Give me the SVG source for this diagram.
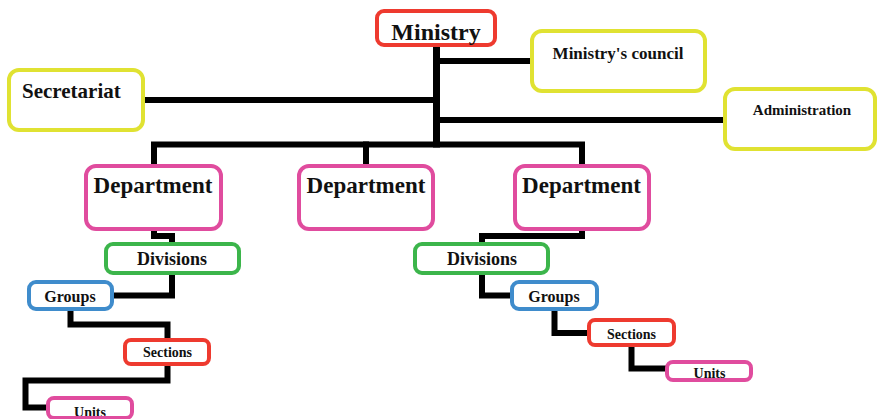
<svg xmlns="http://www.w3.org/2000/svg" width="878" height="419" viewBox="0 0 878 419">
<style>
  .box { fill: #ffffff; stroke-width: 4; }
  .red { stroke: #ee3a2f; }
  .yel { stroke: #e0e232; }
  .mag { stroke: #e04c9e; }
  .grn { stroke: #3cb54b; }
  .blu { stroke: #3f8ccc; }
  .t { font-family: "Liberation Serif", "Times New Roman", serif; font-weight: bold; fill: #111111; text-anchor: middle; }
  .conn { fill: none; stroke: #000000; stroke-width: 6; stroke-linejoin: miter; stroke-linecap: square; }
</style>
<defs>
  <clipPath id="cuR"><rect x="669" y="364" width="80" height="14"/></clipPath>
  <clipPath id="cuL"><rect x="50" y="400" width="80" height="16"/></clipPath>
</defs>
<rect width="878" height="419" fill="#ffffff"/>
<g id="connectors">
  <path class="conn" style="stroke-width:7" d="M436.5,47 V144"/>
  <path class="conn" d="M436,61 H528"/>
  <path class="conn" d="M147,100 H436"/>
  <path class="conn" d="M436,120 H721"/>
  <path class="conn" d="M154,162 V144.5 H582 V162"/>
  <path class="conn" d="M366,144.5 V162"/>
  <path class="conn" d="M154,233 V236 H172 V240"/>
  <path class="conn" d="M172,277 V295.5 H116"/>
  <path class="conn" d="M70.5,313 V324.5 H167.5 V336"/>
  <path class="conn" d="M167.5,368 V380.5 H25.5 V407.5 H44"/>
  <path class="conn" d="M582,233 V236 H482 V240"/>
  <path class="conn" d="M482,277 V295.5 H508"/>
  <path class="conn" d="M554.5,313 V333 H585"/>
  <path class="conn" d="M631.5,349 V368.5 H663"/>
</g>
<g id="ministry">
  <rect class="box red" x="377" y="11" width="118" height="34" rx="7"/>
  <text class="t" x="436" y="40" font-size="24">Ministry</text>
</g>
<g id="council">
  <rect class="box yel" x="532" y="31" width="173" height="60" rx="10"/>
  <text class="t" x="618" y="59" font-size="17">Ministry's council</text>
</g>
<g id="administration">
  <rect class="box yel" x="725" y="89" width="150" height="60" rx="10"/>
  <text class="t" x="802" y="115" font-size="15">Administration</text>
</g>
<g id="secretariat">
  <rect class="box yel" x="9" y="70" width="134" height="60" rx="10"/>
  <text class="t" x="22" y="98" font-size="21" style="text-anchor:start">Secretariat</text>
</g>
<g id="dept-left">
  <rect class="box mag" x="86" y="166" width="135" height="63" rx="10"/>
  <text class="t" x="153" y="193" font-size="23">Department</text>
</g>
<g id="dept-mid">
  <rect class="box mag" x="299" y="166" width="134" height="63" rx="10"/>
  <text class="t" x="366" y="193" font-size="23">Department</text>
</g>
<g id="dept-right">
  <rect class="box mag" x="515" y="166" width="134" height="63" rx="10"/>
  <text class="t" x="581.5" y="193" font-size="23">Department</text>
</g>
<g id="divisions-left">
  <rect class="box grn" x="106" y="244" width="133" height="29" rx="7"/>
  <text class="t" x="172" y="265" font-size="18">Divisions</text>
</g>
<g id="groups-left">
  <rect class="box blu" x="29" y="282" width="83" height="27" rx="7"/>
  <text class="t" x="70" y="302" font-size="16">Groups</text>
</g>
<g id="sections-left">
  <rect class="box red" x="125" y="340" width="84" height="24" rx="6"/>
  <text class="t" x="167.5" y="357" font-size="14">Sections</text>
</g>
<g id="units-left">
  <rect class="box mag" x="48" y="398" width="84" height="20" rx="6"/>
  <text class="t" x="90" y="417" font-size="14" clip-path="url(#cuL)">Units</text>
</g>
<g id="divisions-right">
  <rect class="box grn" x="415" y="244" width="133" height="29" rx="7"/>
  <text class="t" x="482" y="265" font-size="18">Divisions</text>
</g>
<g id="groups-right">
  <rect class="box blu" x="512" y="282" width="85" height="27" rx="7"/>
  <text class="t" x="554" y="302" font-size="16">Groups</text>
</g>
<g id="sections-right">
  <rect class="box red" x="589" y="320" width="85" height="25" rx="6"/>
  <text class="t" x="631.5" y="339" font-size="14">Sections</text>
</g>
<g id="units-right">
  <rect class="box mag" x="667" y="362" width="84" height="18" rx="6"/>
  <text class="t" x="709.5" y="378" font-size="14" clip-path="url(#cuR)">Units</text>
</g>
</svg>
